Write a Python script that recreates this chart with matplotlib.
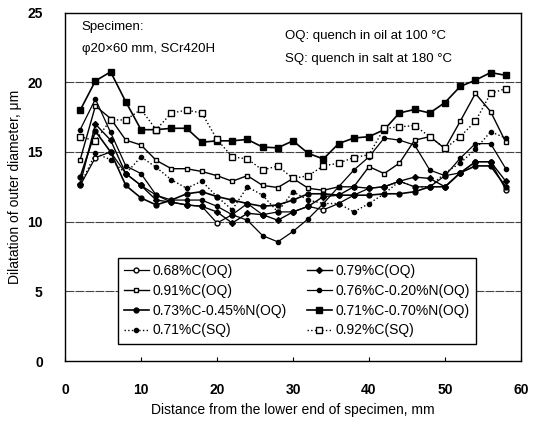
import matplotlib
matplotlib.use("Agg")
import matplotlib.pyplot as plt

plt.rcParams['font.family'] = ['Liberation Sans Narrow', 'Liberation Sans', 'DejaVu Sans']

x = list(range(2, 60, 2))

s_068C_OQ = [12.6, 14.6, 15.0, 13.45, 12.6, 11.9, 11.4, 11.2, 11.1, 9.9, 10.5, 11.3, 10.5, 10.7, 10.7,
             11.1, 10.85, 11.3, 11.9, 12.4, 12.5, 12.9, 12.5, 12.5, 13.3, 13.5, 14.3, 14.3, 12.3]
s_079C_OQ = [12.7, 17.0, 15.85, 13.45, 12.6, 11.55, 11.4, 11.2, 11.1, 10.7, 9.9, 10.6, 10.5, 10.1, 10.7,
             11.1, 11.8, 11.9, 12.5, 12.4, 12.5, 12.9, 13.2, 13.1, 12.5, 13.5, 14.3, 14.3, 12.9]
s_091C_OQ = [14.45, 18.3, 17.4, 15.85, 15.5, 14.4, 13.8, 13.8, 13.6, 13.3, 12.9, 13.3, 12.6, 12.45, 13.1,
             12.4, 12.25, 12.5, 12.5, 13.95, 13.45, 14.2, 15.85, 16.1, 15.25, 17.2, 19.2, 17.9, 15.7]
s_076C020N_OQ = [16.6, 18.8, 16.4, 14.0, 13.45, 11.9, 11.55, 11.55, 11.55, 11.1, 10.5, 10.1, 9.0, 8.55, 9.3,
                 10.2, 11.3, 12.5, 13.7, 14.65, 16.0, 15.85, 15.5, 13.7, 13.3, 14.55, 15.6, 15.6, 13.8]
s_073C045N_OQ = [13.2, 16.5, 15.0, 12.6, 11.7, 11.2, 11.55, 12.0, 12.15, 11.8, 11.55, 11.3, 11.1, 11.2, 11.55,
                 12.0, 12.0, 11.9, 11.9, 11.9, 12.0, 12.0, 12.15, 12.5, 12.5, 13.5, 14.0, 14.0, 12.5]
s_071C070N_OQ = [18.0, 20.1, 20.75, 18.6, 16.6, 16.6, 16.7, 16.7, 15.7, 15.8, 15.8, 15.9, 15.35, 15.3, 15.8,
                 14.9, 14.5, 15.6, 16.0, 16.1, 16.6, 17.8, 18.05, 17.8, 18.55, 19.7, 20.15, 20.7, 20.5]
s_071C_SQ = [12.6, 14.9, 14.45, 13.45, 14.65, 13.9, 13.0, 12.4, 12.9, 11.8, 10.85, 12.5, 11.9, 10.7, 12.15,
             11.55, 11.3, 11.3, 10.7, 11.3, 12.0, 12.9, 12.5, 12.5, 13.5, 14.2, 15.2, 16.45, 16.0]
s_092C_SQ = [16.1, 15.8, 17.3, 17.3, 18.05, 16.6, 17.8, 18.0, 17.8, 15.9, 14.65, 14.5, 13.7, 14.0, 13.1,
             13.3, 14.0, 14.2, 14.6, 14.8, 16.7, 16.8, 16.9, 16.1, 15.25, 16.1, 17.2, 19.2, 19.55]

labels = ['0.68%C(OQ)', '0.91%C(OQ)', '0.73%C-0.45%N(OQ)', '0.71%C(SQ)',
          '0.79%C(OQ)', '0.76%C-0.20%N(OQ)', '0.71%C-0.70%N(OQ)', '0.92%C(SQ)']
series = [s_068C_OQ, s_091C_OQ, s_073C045N_OQ, s_071C_SQ,
          s_079C_OQ, s_076C020N_OQ, s_071C070N_OQ, s_092C_SQ]
styles = [
    dict(ls='-', marker='o', mfc='white', ms=3.5, lw=0.9),
    dict(ls='-', marker='s', mfc='white', ms=3.5, lw=1.0),
    dict(ls='-', marker='o', mfc='black', ms=3.5, lw=1.2),
    dict(ls=':', marker='o', mfc='black', ms=3.0, lw=1.0),
    dict(ls='-', marker='D', mfc='black', ms=3.0, lw=1.0),
    dict(ls='-', marker='o', mfc='black', ms=3.0, lw=0.9),
    dict(ls='-', marker='s', mfc='black', ms=3.8, lw=1.2),
    dict(ls=':', marker='s', mfc='white', ms=4.0, lw=1.0),
]

fig = plt.figure(figsize=(5.39, 4.21), dpi=100)
ax = fig.add_axes([0.1206, 0.1425, 0.846, 0.8275])

for y in [5, 10, 15, 20]:
    ax.axhline(y, color='#444444', lw=0.8, ls=(0, (8, 1)), zorder=0)

handles = []
for vals, lab, st in zip(series, labels, styles):
    h, = ax.plot(x, vals, color='black', mec='black', label=lab, **st)
    handles.append(h)

ax.set_xlim(0, 60)
ax.set_ylim(0, 25)
ax.set_xticks([0, 10, 20, 30, 40, 50, 60])
ax.set_yticks([0, 5, 10, 15, 20, 25])
ax.tick_params(axis='x', direction='in', length=3, pad=16, labelsize=10)
ax.tick_params(axis='y', direction='in', length=0, pad=16, labelsize=10)
for lab in ax.get_xticklabels() + ax.get_yticklabels():
    lab.set_fontweight('bold')
for sp in ax.spines.values():
    sp.set_linewidth(1.0)

ax.set_xlabel('Distance from the lower end of specimen, mm', fontsize=10, labelpad=4)
ax.set_ylabel('Dilatation of outer diameter, μm', fontsize=10, labelpad=4)

ax.text(2.2, 24.0, 'Specimen:', fontsize=9.5, va='center', ha='left')
ax.text(2.2, 22.4, 'φ20×60 mm, SCr420H', fontsize=9.5, va='center', ha='left')
ax.text(29.0, 23.3, 'OQ: quench in oil at 100 °C', fontsize=9.5, va='center', ha='left')
ax.text(29.0, 21.7, 'SQ: quench in salt at 180 °C', fontsize=9.5, va='center', ha='left')

leg = ax.legend(handles=handles, ncol=2, loc='lower left', bbox_to_anchor=(0.1, 0.03),
                fontsize=10, frameon=True, fancybox=False, framealpha=1, edgecolor='black',
                handlelength=1.8, handletextpad=0.3, columnspacing=1.4, labelspacing=0.42,
                borderpad=0.45)
leg.get_frame().set_linewidth(1.0)

fig.savefig('out.png', dpi=100)
